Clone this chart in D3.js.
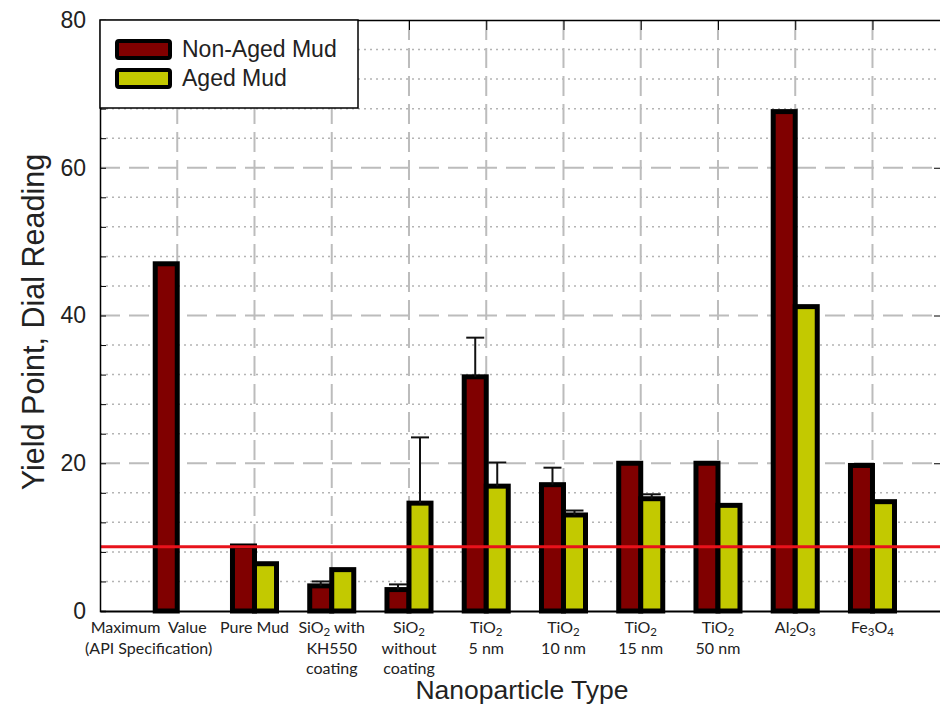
<!DOCTYPE html>
<html>
<head>
<meta charset="utf-8">
<script src="https://cdn.jsdelivr.net/npm/d3@7"></script>
<style>
  body { margin: 0; background: #fff; }
  svg { display: block; }
  .cat { white-space: pre; }
</style>
</head>
<body>
<div id="vis"></div>
<script>
// Data
const categories = ["Maximum  Value|(API Specification)", "Pure Mud", "SiO_2 with|KH550|coating",
                    "SiO_2|without|coating", "TiO_2|5 nm", "TiO_2|10 nm", "TiO_2|15 nm",
                    "TiO_2|50 nm", "Al_2O_3", "Fe_3O_4"];
const nonAged = [47, 8.8, 3.4, 2.9, 31.7, 17.1, 20, 20, 67.6, 19.7];
const aged = [null, 6.4, 5.6, 14.6, 16.9, 13.0, 15.2, 14.3, 41.2, 14.8];
const nonAgedErr = [0, 0, 0.6, 0.7, 5.3, 2.3, 0, 0, 0, 0];
const agedErr = [0, 0, 0, 8.9, 3.2, 0.6, 0.6, 0, 0, 0];
const seriesNames = ["Non-Aged Mud", "Aged Mud"];
const yMajorTicks = [0, 20, 40, 60, 80];
const apiLimit = 8.7;

// Frame
const FRAME_WIDTH = 940;
const FRAME_HEIGHT = 704;
const PLOT = {left: 100, right: 942, top: 20, bottom: 611};
const COLORS = ["#800000", "#c3c900"];
const BAR_W = 0.285;

const svg = d3.select("#vis")
              .append("svg")
                .attr("width", FRAME_WIDTH)
                .attr("height", FRAME_HEIGHT);

// Scales
const X_SCALE = d3.scaleLinear()
                  .domain([0, 10.9])
                  .range([PLOT.left, PLOT.right]);

const Y_SCALE = d3.scaleLinear()
                  .domain([0, 80])
                  .range([PLOT.bottom, PLOT.top]);

const yMinor = d3.range(0, 81, 4).filter((v) => v % 20 !== 0);
const xGrid = categories.map((c, i) => i + 1);

// Dotted minor horizontal grid
svg.append("g")
   .selectAll("line")
   .data(yMinor)
   .enter()
   .append("line")
     .attr("x1", PLOT.left).attr("x2", PLOT.right)
     .attr("y1", (d) => Y_SCALE(d)).attr("y2", (d) => Y_SCALE(d))
     .attr("stroke", "#b4b4b4")
     .attr("stroke-width", 1.5)
     .attr("stroke-dasharray", "2,4");

// Dashed major horizontal grid
svg.append("g")
   .selectAll("line")
   .data(yMajorTicks.slice(1, 4))
   .enter()
   .append("line")
     .attr("x1", PLOT.left).attr("x2", PLOT.right)
     .attr("y1", (d) => Y_SCALE(d)).attr("y2", (d) => Y_SCALE(d))
     .attr("stroke", "#bcbcbc")
     .attr("stroke-width", 2)
     .attr("stroke-dasharray", "20,9");

// Dashed vertical grid
svg.append("g")
   .selectAll("line")
   .data(xGrid)
   .enter()
   .append("line")
     .attr("x1", (d) => X_SCALE(d)).attr("x2", (d) => X_SCALE(d))
     .attr("y1", PLOT.top).attr("y2", PLOT.bottom)
     .attr("stroke", "#bcbcbc")
     .attr("stroke-width", 2)
     .attr("stroke-dasharray", "20,8");

// Bars
const groups = categories.map((c, i) => ({i: i, nonAged: nonAged[i], aged: aged[i],
                                           eN: nonAgedErr[i], eA: agedErr[i]}));

svg.append("g")
   .selectAll("rect")
   .data(groups.filter((d) => d.nonAged != null))
   .enter()
   .append("rect")
     .attr("x", (d) => X_SCALE(d.i + 1 - BAR_W))
     .attr("y", (d) => Y_SCALE(d.nonAged))
     .attr("width", X_SCALE(BAR_W) - X_SCALE(0))
     .attr("height", (d) => PLOT.bottom - Y_SCALE(d.nonAged))
     .attr("fill", COLORS[0])
     .attr("stroke", "#000")
     .attr("stroke-width", 5);

svg.append("g")
   .selectAll("rect")
   .data(groups.filter((d) => d.aged != null))
   .enter()
   .append("rect")
     .attr("x", (d) => X_SCALE(d.i + 1))
     .attr("y", (d) => Y_SCALE(d.aged))
     .attr("width", X_SCALE(BAR_W) - X_SCALE(0))
     .attr("height", (d) => PLOT.bottom - Y_SCALE(d.aged))
     .attr("fill", COLORS[1])
     .attr("stroke", "#000")
     .attr("stroke-width", 5);

// Error bars (upper whisker only shows above the bar)
const errs = [];
groups.forEach((d) => {
  if (d.eN > 0) errs.push({x: d.i + 1 - BAR_W / 2, v: d.nonAged, e: d.eN});
  if (d.eA > 0) errs.push({x: d.i + 1 + BAR_W / 2, v: d.aged, e: d.eA});
});
const errG = svg.append("g").attr("stroke", "#111").attr("stroke-width", 2);
errG.selectAll(".stem")
    .data(errs)
    .enter()
    .append("line")
      .attr("x1", (d) => X_SCALE(d.x)).attr("x2", (d) => X_SCALE(d.x))
      .attr("y1", (d) => Y_SCALE(d.v)).attr("y2", (d) => Y_SCALE(d.v + d.e));
errG.selectAll(".cap")
    .data(errs)
    .enter()
    .append("line")
      .attr("x1", (d) => X_SCALE(d.x) - 9).attr("x2", (d) => X_SCALE(d.x) + 9)
      .attr("y1", (d) => Y_SCALE(d.v + d.e)).attr("y2", (d) => Y_SCALE(d.v + d.e));

// API limit line
svg.append("line")
   .attr("x1", PLOT.left).attr("x2", PLOT.right)
   .attr("y1", Y_SCALE(apiLimit)).attr("y2", Y_SCALE(apiLimit))
   .attr("stroke", "#e8121b")
   .attr("stroke-width", 3);

// Axes frame: inward ticks
svg.append("g")
   .attr("transform", "translate(" + PLOT.left + ",0)")
   .call(d3.axisRight(Y_SCALE).tickValues(d3.range(0, 81, 4)).tickSize(6).tickFormat(""))
   .call((g) => g.select(".domain").attr("stroke-width", 1.5));

svg.append("g")
   .attr("transform", "translate(" + PLOT.right + ",0)")
   .call(d3.axisLeft(Y_SCALE).tickValues(yMajorTicks).tickSize(8).tickFormat(""));

svg.append("g")
   .attr("transform", "translate(0," + PLOT.top + ")")
   .call(d3.axisBottom(X_SCALE).tickValues(xGrid).tickSize(10).tickFormat("").tickSizeOuter(0))
   .call((g) => g.select(".domain").attr("stroke-width", 1.5));

svg.append("g")
   .attr("transform", "translate(0," + PLOT.bottom + ")")
   .call(d3.axisTop(X_SCALE).tickValues(xGrid).tickSize(8).tickFormat("").tickSizeOuter(0))
   .call((g) => g.select(".domain").attr("stroke-width", 2));

// Y tick labels
svg.append("g")
   .attr("transform", "translate(" + PLOT.left + ",0)")
   .call(d3.axisLeft(Y_SCALE).tickValues(yMajorTicks).tickSize(0).tickPadding(14))
   .call((g) => g.select(".domain").remove())
   .selectAll("text")
     .attr("font-family", "Arial, 'Liberation Sans', sans-serif")
     .attr("font-size", 23)
     .attr("fill", "#222");

// X category labels with subscripts
function addRich(textSel, str) {
  const parts = str.split(/_(\d)/);
  let shifted = false;
  parts.forEach((p, k) => {
    if (p === "") return;
    const sub = k % 2 === 1;
    const t = textSel.append("tspan").text(p);
    if (sub) { t.attr("font-size", 11.5).attr("dy", 3); shifted = true; }
    else if (shifted) { t.attr("dy", -3); shifted = false; }
  });
}

const FIRST_LABEL_SHIFT = -0.37;
categories.forEach((c, i) => {
  const cx = X_SCALE(i + 1 + (i === 0 ? FIRST_LABEL_SHIFT : 0));
  c.split("|").forEach((line, j) => {
    const t = svg.append("text")
                 .attr("class", "cat")
                 .attr("x", cx)
                 .attr("y", 633 + j * 20.5)
                 .attr("text-anchor", "middle")
                 .attr("font-family", "Lato, 'Open Sans', sans-serif")
                 .attr("font-size", 16)
                 .attr("fill", "#222");
    addRich(t, line);
  });
});

// Axis titles
svg.append("text")
   .attr("x", 522).attr("y", 699)
   .attr("text-anchor", "middle")
   .attr("font-family", "Arial, 'Liberation Sans', sans-serif")
   .attr("font-size", 26.5)
   .attr("fill", "#222")
   .text("Nanoparticle Type");

svg.append("text")
   .attr("transform", "translate(44,322) rotate(-90)")
   .attr("text-anchor", "middle")
   .attr("font-family", "Arial, 'Liberation Sans', sans-serif")
   .attr("font-size", 30.5)
   .attr("fill", "#222")
   .text("Yield Point, Dial Reading");

// Legend
const legend = svg.append("g");
legend.append("rect")
      .attr("x", PLOT.left).attr("y", PLOT.top)
      .attr("width", 258).attr("height", 88)
      .attr("fill", "#fff")
      .attr("stroke", "#000")
      .attr("stroke-width", 1.5);

seriesNames.forEach((name, k) => {
  legend.append("rect")
        .attr("x", 117).attr("y", 41 + k * 29)
        .attr("width", 53).attr("height", 17)
        .attr("rx", 2)
        .attr("fill", COLORS[k])
        .attr("stroke", "#000")
        .attr("stroke-width", 4);
  legend.append("text")
        .attr("x", 182).attr("y", 57 + k * 29)
        .attr("font-family", "Arial, 'Liberation Sans', sans-serif")
        .attr("font-size", 23)
        .attr("fill", "#222")
        .text(name);
});
</script>
</body>
</html>
